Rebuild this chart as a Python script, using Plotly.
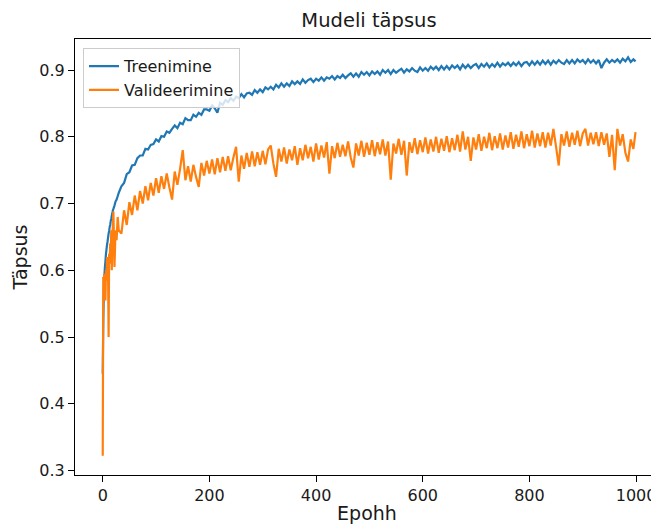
import plotly.graph_objects as go

# epochs: every epoch at the start, then every 5th
epochs = list(range(0, 21)) + [22, 24, 26, 28, 30] + list(range(35, 1000, 5)) + [999]

# Treenimine (training accuracy)
train_acc = [
    0.445, 0.522, 0.566, 0.589, 0.604, 0.613, 0.624, 0.631, 0.638, 0.643,
    0.649, 0.655, 0.659, 0.665, 0.668, 0.674, 0.677, 0.682, 0.685, 0.690, 0.692,
    0.697, 0.703, 0.706, 0.711, 0.716,
    # 35 .. 130
    0.726, 0.731, 0.744, 0.747, 0.757, 0.758, 0.768, 0.772, 0.772, 0.782,
    0.781, 0.788, 0.789, 0.796, 0.793, 0.801, 0.800, 0.808, 0.806, 0.812,
    # 135 .. 230
    0.817, 0.813, 0.821, 0.819, 0.828, 0.825, 0.825, 0.833, 0.830, 0.836,
    0.833, 0.841, 0.841, 0.839, 0.847, 0.843, 0.836, 0.851, 0.848, 0.855,
    # 235 .. 330
    0.852, 0.858, 0.854, 0.860, 0.858, 0.864, 0.859, 0.865, 0.866, 0.863,
    0.870, 0.866, 0.871, 0.867, 0.874, 0.871, 0.875, 0.871, 0.878, 0.874,
    # 335 .. 430
    0.880, 0.875, 0.880, 0.876, 0.883, 0.879, 0.883, 0.879, 0.886, 0.881,
    0.885, 0.887, 0.882, 0.887, 0.884, 0.889, 0.884, 0.889, 0.887, 0.891,
    # 435 .. 530
    0.886, 0.891, 0.888, 0.893, 0.888, 0.892, 0.895, 0.890, 0.895, 0.890,
    0.897, 0.893, 0.897, 0.892, 0.898, 0.894, 0.898, 0.893, 0.900, 0.896,
    # 535 .. 630
    0.900, 0.894, 0.900, 0.896, 0.899, 0.902, 0.896, 0.901, 0.898, 0.903,
    0.899, 0.897, 0.904, 0.899, 0.903, 0.899, 0.905, 0.901, 0.905, 0.900,
    # 635 .. 730
    0.906, 0.901, 0.906, 0.901, 0.907, 0.903, 0.907, 0.901, 0.908, 0.903,
    0.908, 0.903, 0.907, 0.909, 0.903, 0.909, 0.905, 0.910, 0.904, 0.909,
    # 735 .. 830
    0.905, 0.911, 0.905, 0.910, 0.907, 0.911, 0.906, 0.911, 0.907, 0.912,
    0.906, 0.911, 0.912, 0.907, 0.913, 0.908, 0.913, 0.908, 0.914, 0.909,
    # 835 .. 930
    0.914, 0.908, 0.914, 0.910, 0.915, 0.911, 0.909, 0.915, 0.910, 0.915,
    0.910, 0.916, 0.912, 0.915, 0.910, 0.916, 0.911, 0.915, 0.910, 0.915,
    # 935 .. 995, 999
    0.903, 0.911, 0.916, 0.911, 0.915, 0.912, 0.916, 0.911, 0.917, 0.913,
    0.919, 0.912, 0.916, 0.913,
]

# Valideerimine (validation accuracy)
val_acc = [
    0.3225, 0.590, 0.555, 0.595, 0.570, 0.555, 0.600, 0.585, 0.620, 0.600,
    0.595, 0.500, 0.625, 0.610, 0.640, 0.625, 0.660, 0.600, 0.645, 0.670, 0.688,
    0.605, 0.660, 0.645, 0.680, 0.660,
    # 35 .. 130
    0.655, 0.690, 0.668, 0.702, 0.683, 0.712, 0.690, 0.719, 0.700, 0.726,
    0.705, 0.731, 0.712, 0.738, 0.716, 0.741, 0.722, 0.745, 0.724, 0.706,
    # 135 .. 230
    0.748, 0.728, 0.752, 0.780, 0.735, 0.756, 0.733, 0.758, 0.740, 0.725,
    0.761, 0.742, 0.764, 0.745, 0.766, 0.744, 0.768, 0.747, 0.770, 0.749,
    # 235 .. 330
    0.771, 0.750, 0.769, 0.785, 0.733, 0.772, 0.752, 0.776, 0.755, 0.778,
    0.756, 0.777, 0.758, 0.779, 0.759, 0.781, 0.787, 0.760, 0.740, 0.782,
    # 335 .. 430
    0.763, 0.784, 0.760, 0.781, 0.765, 0.786, 0.758, 0.783, 0.765, 0.788,
    0.768, 0.785, 0.763, 0.790, 0.766, 0.787, 0.769, 0.792, 0.745, 0.786,
    # 435 .. 530
    0.768, 0.791, 0.770, 0.788, 0.771, 0.793, 0.769, 0.754, 0.790, 0.772,
    0.794, 0.770, 0.791, 0.773, 0.795, 0.771, 0.792, 0.774, 0.796, 0.772,
    # 535 .. 630
    0.793, 0.736, 0.790, 0.775, 0.797, 0.773, 0.794, 0.742, 0.792, 0.776,
    0.798, 0.774, 0.795, 0.777, 0.799, 0.775, 0.796, 0.778, 0.800, 0.776,
    # 635 .. 730
    0.797, 0.779, 0.801, 0.777, 0.798, 0.780, 0.803, 0.778, 0.808, 0.781,
    0.800, 0.764, 0.799, 0.781, 0.804, 0.779, 0.800, 0.783, 0.806, 0.780,
    # 735 .. 830
    0.801, 0.783, 0.805, 0.781, 0.802, 0.784, 0.807, 0.782, 0.803, 0.785,
    0.808, 0.783, 0.804, 0.786, 0.809, 0.784, 0.805, 0.786, 0.807, 0.784,
    # 835 .. 930
    0.806, 0.787, 0.812, 0.785, 0.757, 0.804, 0.787, 0.808, 0.785, 0.806,
    0.788, 0.809, 0.786, 0.805, 0.812, 0.787, 0.806, 0.789, 0.807, 0.786,
    # 935 .. 995, 999
    0.807, 0.788, 0.805, 0.770, 0.803, 0.750, 0.812, 0.787, 0.804, 0.776,
    0.763, 0.796, 0.782, 0.807,
]

x_ticks = [0, 200, 400, 600, 800, 1000]
y_ticks = [0.3, 0.4, 0.5, 0.6, 0.7, 0.8, 0.9]

font = "DejaVu Sans"
ink = "#1a1a1a"

fig = go.Figure()
fig.add_trace(go.Scatter(x=epochs, y=train_acc, mode="lines", name="Treenimine",
                         line=dict(color="#1f77b4", width=2.2, simplify=False)))
fig.add_trace(go.Scatter(x=epochs, y=val_acc, mode="lines", name="Valideerimine",
                         line=dict(color="#ff7f0e", width=2.2, simplify=False)))

# the page body adds an 8px offset, so the figure is 8px smaller than the window
fig.update_layout(
    width=651, height=516,
    margin=dict(l=67, r=0, t=31, b=49),
    paper_bgcolor="white", plot_bgcolor="white",
    font=dict(family=font, size=16, color=ink),
    title=dict(text="Mudeli täpsus", font=dict(size=19.5, color=ink),
               x=0.5034, xref="paper", xanchor="center",
               y=1 - 12 / 516, yref="container", yanchor="middle"),
    legend=dict(x=0.0137, y=0.979, xanchor="left", yanchor="top",
                bgcolor="rgba(255,255,255,0.8)", bordercolor="#cccccc", borderwidth=1,
                font=dict(size=16, color=ink)),
    showlegend=True,
)

fig.update_xaxes(
    range=[-52, 1043], tickvals=x_ticks, showgrid=False, zeroline=False,
    showline=True, linecolor="black", linewidth=1.2, mirror=True,
    ticks="outside", ticklen=6, tickwidth=1.2, tickcolor="black",
    title=dict(text="Epohh", standoff=9), automargin=False,
)
fig.update_yaxes(
    range=[0.2935, 0.9465], tickvals=y_ticks, tickformat=".1f",
    showgrid=False, zeroline=False,
    showline=True, linecolor="black", linewidth=1.2,
    ticks="outside", ticklen=6, tickwidth=1.2, tickcolor="black",
    title=dict(text="Täpsus", standoff=6), automargin=False,
)

fig.write_html("out.html")
